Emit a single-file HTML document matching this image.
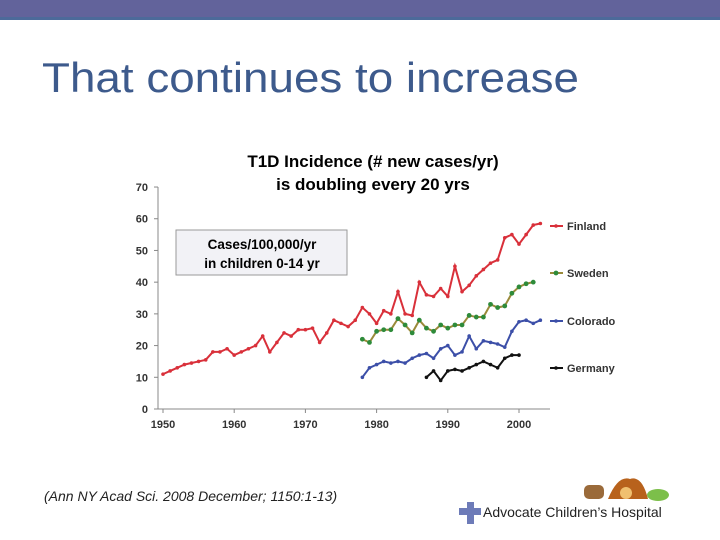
<!DOCTYPE html>
<html><head><meta charset="utf-8"><style>
body{margin:0;width:720px;height:540px;background:#fff;overflow:hidden;position:relative;font-family:"Liberation Sans",sans-serif}
.topbar{position:absolute;left:0;top:0;width:720px;height:20px;background:#62639b;border-bottom:3px solid #4c6a9a;box-sizing:border-box}
.title{position:absolute;left:42px;top:54px;font-size:42px;color:#3d5a8c;font-family:"Liberation Sans",sans-serif;font-weight:normal;white-space:nowrap;transform:scaleX(1.09);transform-origin:left}
.cite{position:absolute;left:44px;top:488px;font-size:14px;font-style:italic;color:#222}
</style></head><body>
<div class="topbar"></div>
<div class="title">That continues to increase</div>
<svg id="chart" width="720" height="540" style="position:absolute;left:0;top:0">
<text x="373" y="167" text-anchor="middle" font-size="17" font-weight="bold" font-family="Liberation Sans">T1D Incidence (# new cases/yr)</text>
<text x="373" y="190" text-anchor="middle" font-size="17" font-weight="bold" font-family="Liberation Sans">is doubling every 20 yrs</text>
<rect x="176" y="230" width="171" height="45" fill="#f2f2f6" stroke="#999"/>
<text x="262" y="249" text-anchor="middle" font-size="13.5" font-weight="bold" font-family="Liberation Sans">Cases/100,000/yr</text>
<text x="262" y="268" text-anchor="middle" font-size="13.5" font-weight="bold" font-family="Liberation Sans">in children 0-14 yr</text>
<g id="axes"></g><g id="series"></g><g id="legend"></g>
</svg>
<div class="cite">(Ann NY Acad Sci. 2008 December; 1150:1-13)</div>
<svg width="230" height="60" style="position:absolute;left:450px;top:475px">
<rect x="134" y="10" width="20" height="14" rx="5" fill="#9a6a3a"/>
<path d="M158 24 Q168 0 180 4 Q192 0 198 24 Z" fill="#b8621c"/><circle cx="176" cy="18" r="6" fill="#f0c070"/>
<ellipse cx="208" cy="20" rx="11" ry="6" fill="#7cbf4a"/>
<rect x="9" y="33" width="22" height="7" fill="#6d7bb8"/><rect x="17" y="27" width="7" height="22" fill="#6d7bb8"/>
<text x="33" y="42" font-size="14" font-family="Liberation Sans" fill="#222">Advocate Children’s Hospital</text>
</svg>
<script>
const years=[1950,1960,1970,1980,1990,2000];
const yTicks=[0,10,20,30,40,50,60,70];
const finland=[11,12,13,14,14.5,15,15.5,18,18,19,17,18,19,20,23,18,21,24,23,25,25,25.5,21,24,28,27,26,28,32,30,27,31,30,37,30,29.5,40,36,35.5,38,35.5,45,37,39,42,44,46,47,54,55,52,55,58,58.5];
const finlandStart=1950;
const sweden=[22,21,24.5,25,25,28.5,26.5,24,28,25.5,24.5,26.5,25.5,26.5,26.5,29.5,29,29,33,32,32.5,36.5,38.5,39.5,40];
const swedenStart=1978;
const colorado=[10,13,14,15,14.5,15,14.5,16,17,17.5,16,19,20,17,18,23,19,21.5,21,20.5,19.5,24.5,27.5,28,27,28];
const coloradoStart=1978;
const germany=[10,12,9,12,12.5,12,13,14,15,14,13,16,17,17];
const germanyStart=1987;
const NS="http://www.w3.org/2000/svg";
const X=y=>163+(y-1950)*7.12, Y=v=>409-v*3.171;
function mk(t,a,p){const e=document.createElementNS(NS,t);for(const k in a)e.setAttribute(k,a[k]);p.appendChild(e);return e;}
const ax=document.getElementById('axes');
let l=mk('line',{x1:158,y1:Y(70),x2:158,y2:409,stroke:'#888'},ax);


l=mk('line',{x1:158,y1:409,x2:550,y2:409,stroke:'#888'},ax);


yTicks.forEach(v=>{mk('line',{x1:154,y1:Y(v),x2:158,y2:Y(v),stroke:'#888'},ax);
const t=mk('text',{x:148,y:Y(v)+4,'text-anchor':'end','font-size':11,'font-weight':'bold','font-family':'Liberation Sans',fill:'#333'},ax);t.textContent=v;

});
years.forEach(v=>{mk('line',{x1:X(v),y1:409,x2:X(v),y2:413,stroke:'#888'},ax);
const t=mk('text',{x:X(v),y:428,'text-anchor':'middle','font-size':11,'font-weight':'bold','font-family':'Liberation Sans',fill:'#333'},ax);t.textContent=v;

});
const sg=document.getElementById('series'),lg=document.getElementById('legend');
function draw(vals,start,col,lineCol,name,ly,r){
 const g=mk('g',{},sg);
 
 
 mk('polyline',{points:vals.map((v,i)=>X(start+i)+','+Y(v)).join(' '),fill:'none',stroke:lineCol,'stroke-width':2},g);
 vals.forEach((v,i)=>mk('circle',{cx:X(start+i),cy:Y(v),r:r,fill:col},g));
 const le=mk('g',{},lg);
 
 
 mk('line',{x1:550,y1:ly,x2:563,y2:ly,stroke:lineCol,'stroke-width':2},le);
 mk('circle',{cx:556,cy:ly,r:r,fill:col},le);
 const t=mk('text',{x:567,y:ly+4,'font-size':11,'font-weight':'bold','font-family':'Liberation Sans',fill:'#333'},le);t.textContent=name;
}
draw(finland,finlandStart,'#d9303a','#d9303a','Finland',226,1.8);
draw(sweden,swedenStart,'#2e8b3a','#9a8a3a','Sweden',273,2.4);
draw(colorado,coloradoStart,'#3c4fa8','#3c4fa8','Colorado',321,1.8);
draw(germany,germanyStart,'#111','#111','Germany',368,1.8);
</script>
</body></html>
